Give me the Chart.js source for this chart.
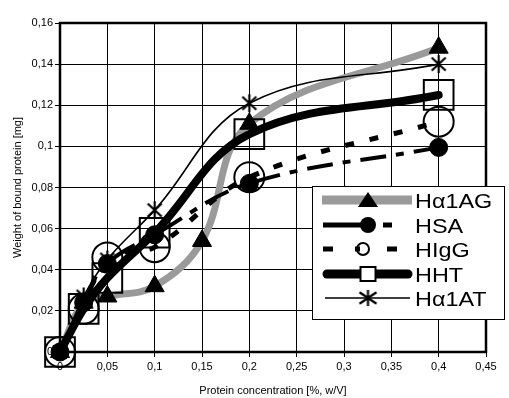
<!DOCTYPE html>
<html>
<head>
<meta charset="utf-8">
<title>Bound protein</title>
<script src="https://cdn.jsdelivr.net/npm/chart.js@4.4.1/dist/chart.umd.min.js"></script>
<style>
  html, body { margin: 0; padding: 0; background: #fff; }
  #grafico { display: block; }
</style>
</head>
<body>
<canvas id="grafico" width="509" height="398"></canvas>
<script>
// Datos (concentracion en %, peso en mg)
const concAG = [0, 0.025, 0.05, 0.1, 0.15, 0.2, 0.4];
const conc = [0, 0.025, 0.05, 0.1, 0.2, 0.4];
const valHa1AG = [0, 0.024, 0.027, 0.032, 0.054, 0.111, 0.148];
const valHSA = [0, 0.024, 0.043, 0.057, 0.082, 0.0995];
const valHIgG = [0, 0.021, 0.046, 0.051, 0.085, 0.112];
const valHHT = [0, 0.021, 0.036, 0.058, 0.106, 0.125];
const valHa1AT = [0, 0.027, 0.045, 0.069, 0.121, 0.14];
const nombres = ["H\u03b11AG", "HSA", "HIgG", "HHT", "H\u03b11AT"];
const ticksX = [0, 0.05, 0.1, 0.15, 0.2, 0.25, 0.3, 0.35, 0.4, 0.45];
const ticksY = [0, 0.02, 0.04, 0.06, 0.08, 0.1, 0.12, 0.14, 0.16];

const GRIS = "#9a9a9a";
const FUENTE = "Arial, 'Liberation Sans', sans-serif";

// formato con coma decimal
function coma(v) {
  if (Math.abs(v) < 1e-9) return "0";
  return String(+v.toFixed(3)).replace(".", ",");
}

function puntos(xs, ys) {
  return xs.map(function (x, i) {
    return { x: x, y: ys[i] };
  });
}

//marcador asterisco (linea vertical + X) como canvas
function hacerAsterisco(w, h, lw) {
  const c = document.createElement("canvas");
  c.width = w + 4;
  c.height = h + 4;
  const g = c.getContext("2d");
  g.strokeStyle = "#000";
  g.lineWidth = lw;
  const cx = c.width / 2, cy = c.height / 2;
  g.beginPath();
  g.moveTo(cx, cy - h / 2); g.lineTo(cx, cy + h / 2);
  g.moveTo(cx - w / 2, cy - h * 0.36); g.lineTo(cx + w / 2, cy + h * 0.36);
  g.moveTo(cx - w / 2, cy + h * 0.36); g.lineTo(cx + w / 2, cy - h * 0.36);
  g.stroke();
  return c;
}
const asterisco = hacerAsterisco(14, 18, 2.2);
const asteriscoLey = hacerAsterisco(17, 16, 2.2);

// marco grueso del area de trazado
const marco = {
  id: "marco",
  afterDatasetsDraw: function (chart) {
    const a = chart.chartArea;
    const ctx = chart.ctx;
    ctx.save();
    ctx.strokeStyle = "#000";
    ctx.lineWidth = 2.5;
    ctx.strokeRect(a.left, a.top, a.right - a.left, a.bottom - a.top);
    ctx.restore();
  },
};

// leyenda dibujada a mano dentro del grafico
const leyenda = {
  id: "leyenda",
  afterDraw: function (chart) {
    const ctx = chart.ctx;
    const x0 = 312, y0 = 186, x1 = 504, y1 = 319;
    const filas = [200, 225, 249, 274, 298];
    ctx.save();
    ctx.fillStyle = "#fff";
    ctx.fillRect(x0, y0, x1 - x0, y1 - y0);
    ctx.strokeStyle = "#000";
    ctx.lineWidth = 1;
    ctx.strokeRect(x0 + 0.5, y0 + 0.5, x1 - x0, y1 - y0);

    function linea(xa, xb, y, lw, cap, color) {
      ctx.beginPath();
      ctx.strokeStyle = color || "#000";
      ctx.lineWidth = lw;
      ctx.lineCap = cap || "butt";
      ctx.moveTo(xa, y);
      ctx.lineTo(xb, y);
      ctx.stroke();
    }

    // Ha1AG
    let y = filas[0];
    linea(322, 412, y, 9, "butt", GRIS);
    ctx.beginPath();
    ctx.fillStyle = "#000";
    ctx.moveTo(368, y - 8);
    ctx.lineTo(378, y + 7);
    ctx.lineTo(358, y + 7);
    ctx.closePath();
    ctx.fill();

    // HSA
    y = filas[1];
    linea(323, 362, y, 5);
    linea(383, 392, y, 5);
    ctx.beginPath();
    ctx.arc(368, y, 8, 0, Math.PI * 2);
    ctx.fillStyle = "#000";
    ctx.fill();

    // HIgG
    y = filas[2];
    linea(323, 333, y, 5);
    linea(355, 360, y, 5);
    linea(387, 397, y, 5);
    ctx.beginPath();
    ctx.arc(363, y, 6, 0, Math.PI * 2);
    ctx.lineWidth = 2;
    ctx.strokeStyle = "#000";
    ctx.stroke();

    // HHT
    y = filas[3];
    linea(327, 408, y, 9, "round");
    ctx.fillStyle = "#fff";
    ctx.fillRect(360.5, y - 7, 15, 14);
    ctx.lineWidth = 2;
    ctx.strokeStyle = "#000";
    ctx.strokeRect(360.5, y - 7, 15, 14);

    // Ha1AT
    y = filas[4];
    linea(325, 410, y, 1.6);
    ctx.drawImage(asteriscoLey, 368 - asteriscoLey.width / 2, y - asteriscoLey.height / 2);

    // textos (algo estirados a lo ancho, como en el original)
    ctx.fillStyle = "#000";
    ctx.font = "20px " + FUENTE;
    ctx.textBaseline = "middle";
    ctx.textAlign = "left";
    nombres.forEach(function (n, i) {
      ctx.save();
      ctx.translate(415, filas[i] + 2);
      ctx.scale(1.17, 1);
      ctx.fillText(n, 0, 0);
      ctx.restore();
    });
    ctx.restore();
  },
};

const data = {
  datasets: [
    {
      label: nombres[0],
      data: puntos(concAG, valHa1AG),
      borderColor: GRIS,
      borderWidth: 7,
      pointStyle: "triangle",
      pointRadius: 11,
      pointBackgroundColor: "#000",
      pointBorderColor: "#000",
      pointBorderWidth: 1,
      order: 5,
    },
    {
      label: nombres[1],
      data: puntos(conc, valHSA),
      borderColor: "#000",
      borderWidth: 4,
      borderDash: [26, 10, 8, 10],
      pointStyle: "circle",
      pointRadius: 9,
      pointBackgroundColor: "#000",
      pointBorderColor: "#000",
      pointBorderWidth: 1,
      order: 4,
    },
    {
      label: nombres[2],
      data: puntos(conc, valHIgG),
      borderColor: "#000",
      borderWidth: 5,
      borderDash: [9, 16],
      pointStyle: "circle",
      pointRadius: 15,
      pointBackgroundColor: "rgba(0,0,0,0)",
      pointBorderColor: "#000",
      pointBorderWidth: 2,
      order: 3,
    },
    {
      label: nombres[3],
      data: puntos(conc, valHHT),
      borderColor: "#000",
      borderWidth: 8,
      borderCapStyle: "round",
      pointStyle: "rect",
      pointRadius: 21,
      pointBackgroundColor: "rgba(0,0,0,0)",
      pointBorderColor: "#000",
      pointBorderWidth: 2,
      order: 2,
    },
    {
      label: nombres[4],
      data: puntos(conc, valHa1AT),
      borderColor: "#000",
      borderWidth: 1.6,
      pointStyle: asterisco,
      pointRadius: 9,
      order: 1,
    },
  ],
};

const config = {
  type: "scatter",
  data: data,
  options: {
    responsive: false,
    animation: false,
    devicePixelRatio: 1,
    layout: { padding: { left: 0, right: 11, top: 16, bottom: 0 } },
    datasets: {
      scatter: { showLine: true, tension: 0.38, clip: false },
    },
    plugins: {
      legend: { display: false },
      tooltip: { enabled: false },
    },
    scales: {
      x: {
        type: "linear",
        min: 0,
        max: 0.45,
        afterBuildTicks: function (s) {
          s.ticks = ticksX.map(function (v) { return { value: v }; });
        },
        afterFit: function (s) { s.height = 46; },
        grid: { color: "#000", lineWidth: 1, tickLength: 5, tickColor: "#000" },
        border: { display: false },
        ticks: {
          color: "#000",
          font: { family: FUENTE, size: 11 },
          padding: 3,
          maxRotation: 0,
          callback: coma,
        },
        title: {
          display: true,
          text: "Protein concentration [%, w/V]",
          color: "#000",
          font: { family: FUENTE, size: 11 },
          padding: { top: 0, bottom: 0 },
        },
      },
      y: {
        type: "linear",
        min: 0,
        max: 0.16,
        afterBuildTicks: function (s) {
          s.ticks = ticksY.map(function (v) { return { value: v }; });
        },
        afterFit: function (s) { s.width = 60; },
        grid: { color: "#000", lineWidth: 1, tickLength: 5, tickColor: "#000" },
        border: { display: false },
        ticks: {
          color: "#000",
          font: { family: FUENTE, size: 11 },
          padding: 2,
          callback: coma,
        },
        title: {
          display: true,
          text: "Weight of bound protein [mg]",
          color: "#000",
          font: { family: FUENTE, size: 11 },
          padding: { top: 11, bottom: 0 },
        },
      },
    },
  },
  plugins: [marco, leyenda],
};

const miGrafico = new Chart(document.getElementById("grafico"), config);
</script>
</body>
</html>
